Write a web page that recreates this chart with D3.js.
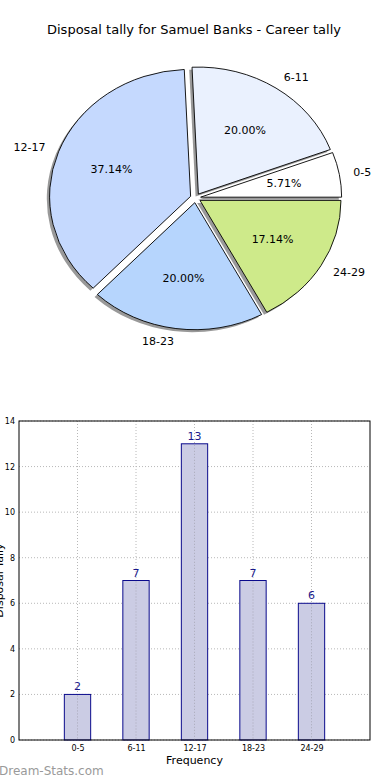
<!DOCTYPE html>
<html>
<head>
<meta charset="utf-8">
<script src="https://cdn.jsdelivr.net/npm/d3@7"></script>
<style>
  body { margin: 0; background: #fff; }
  text { font-family: "DejaVu Sans", sans-serif; }
</style>
</head>
<body>
<svg width="390" height="780"></svg>
<script>
const title = "Disposal tally for Samuel Banks - Career tally"
const categories = ["0-5", "6-11", "12-17", "18-23", "24-29"]
const counts = [2, 7, 13, 7, 6]
const sliceColors = ["#ffffff", "#eaf1fe", "#c5d9fe", "#b6d5fd", "#ceea8a"]
const yTicks = [0, 2, 4, 6, 8, 10, 12, 14]

const svg = d3.select("svg")

svg.append("text")
    .attr("x", 194).attr("y", 34)
    .attr("text-anchor", "middle")
    .attr("font-size", 13)
    .text(title)

// pie (matplotlib style: counter-clockwise from east, elliptical, exploded, shadowed)
const cx = 195.5, cy = 198, rx = 141, ry = 127, explode = 0.037
const total = d3.sum(counts)
const pie = d3.pie().sort(null)
    .startAngle(Math.PI / 2).endAngle(Math.PI / 2 - 2 * Math.PI)
const arcs = pie(counts)
const arc = d3.arc().innerRadius(0).outerRadius(1)

const pieG = svg.append("g")

// d3 angles: 0 = up, clockwise
function offset(a, f) {
    const mid = (a.startAngle + a.endAngle) / 2
    return [Math.sin(mid) * f * rx, -Math.cos(mid) * f * ry]
}

arcs.forEach((a, i) => {
    const [ox, oy] = offset(a, explode)
    pieG.append("path")
        .attr("d", arc(a))
        .attr("transform", `translate(${cx + ox - 2.8},${cy + oy + 2.5}) scale(${rx},${ry})`)
        .attr("fill", "#000")
        .attr("fill-opacity", 0.4)
})
arcs.forEach((a, i) => {
    const [ox, oy] = offset(a, explode)
    pieG.append("path")
        .attr("d", arc(a))
        .attr("transform", `translate(${cx + ox},${cy + oy}) scale(${rx},${ry})`)
        .attr("fill", sliceColors[i])
        .attr("stroke", "#000")
        .attr("stroke-width", 0.9)
        .attr("vector-effect", "non-scaling-stroke")
})
arcs.forEach((a, i) => {
    const [ox, oy] = offset(a, explode)
    const [lx, ly] = offset(a, 1.1)
    const [px, py] = offset(a, 0.6)
    const mid = (a.startAngle + a.endAngle) / 2
    const s = Math.sin(mid)
    pieG.append("text")
        .attr("x", cx + ox + lx).attr("y", cy + oy + ly)
        .attr("dy", "0.35em")
        .attr("text-anchor", s > 0.01 ? "start" : s < -0.01 ? "end" : "middle")
        .attr("font-size", 11)
        .text(categories[i])
    pieG.append("text")
        .attr("x", cx + ox + px).attr("y", cy + oy + py)
        .attr("dy", "0.35em")
        .attr("text-anchor", "middle")
        .attr("font-size", 11)
        .text((counts[i] / total * 100).toFixed(2) + "%")
})

// bar chart
const pLeft = 19, pRight = 370, pTop = 421, pBottom = 740
const x = d3.scaleLinear().domain([-1, 5]).range([pLeft, pRight])
const y = d3.scaleLinear().domain([0, 14]).range([pBottom, pTop])
const barW = 0.45

const g = svg.append("g")

// grid
g.selectAll(".vgrid").data(categories).enter().append("line")
    .attr("x1", (d, i) => x(i)).attr("x2", (d, i) => x(i))
    .attr("y1", pTop).attr("y2", pBottom)
    .attr("stroke", "#b8b8b8").attr("stroke-dasharray", "1,2")
g.selectAll(".hgrid").data(yTicks).enter().append("line")
    .attr("x1", pLeft).attr("x2", pRight)
    .attr("y1", d => y(d)).attr("y2", d => y(d))
    .attr("stroke", "#b8b8b8").attr("stroke-dasharray", "1,2")

g.selectAll(".bar").data(counts).enter().append("rect")
    .attr("x", (d, i) => x(i - barW / 2))
    .attr("y", d => y(d))
    .attr("width", x(barW) - x(0))
    .attr("height", d => pBottom - y(d))
    .attr("fill", "#cbcce4")
    .attr("stroke", "#0a0a8c")
    .attr("stroke-width", 1)

// grid shows through bars
g.selectAll(".vgrid2").data(categories).enter().append("line")
    .attr("x1", (d, i) => x(i)).attr("x2", (d, i) => x(i))
    .attr("y1", (d, i) => y(counts[i]) + 1).attr("y2", pBottom)
    .attr("stroke", "#a8a8b8").attr("stroke-dasharray", "1,2")

g.selectAll(".val").data(counts).enter().append("text")
    .attr("x", (d, i) => x(i)).attr("y", d => y(d) - 4)
    .attr("text-anchor", "middle")
    .attr("font-size", 11)
    .attr("fill", "#1a1a8c")
    .text(d => d)

// frame and axes
g.append("rect")
    .attr("x", pLeft).attr("y", pTop)
    .attr("width", pRight - pLeft).attr("height", pBottom - pTop)
    .attr("fill", "none").attr("stroke", "#000").attr("stroke-width", 1)

const yAxis = g.append("g").attr("transform", `translate(${pLeft},0)`)
    .call(d3.axisLeft(y).tickValues(yTicks).tickSize(0).tickPadding(4))
yAxis.select(".domain").remove()
yAxis.selectAll("text").attr("font-size", 8).attr("font-family", "DejaVu Sans")

const xAxis = g.append("g").attr("transform", `translate(0,${pBottom})`)
    .call(d3.axisBottom(x).tickValues(d3.range(categories.length))
        .tickFormat(i => categories[i]).tickSize(0).tickPadding(5))
xAxis.select(".domain").remove()
xAxis.selectAll("text").attr("font-size", 8).attr("font-family", "DejaVu Sans")

svg.append("text")
    .attr("x", x(2)).attr("y", 764)
    .attr("text-anchor", "middle")
    .attr("font-size", 11)
    .text("Frequency")

svg.append("text")
    .attr("transform", `translate(3,${(pTop + pBottom) / 2}) rotate(-90)`)
    .attr("text-anchor", "middle")
    .attr("font-size", 11)
    .text("Disposal Tally")

svg.append("text")
    .attr("x", -1).attr("y", 775)
    .attr("font-size", 12)
    .attr("fill", "#9a9a9a")
    .text("Dream-Stats.com")
</script>
</body>
</html>
